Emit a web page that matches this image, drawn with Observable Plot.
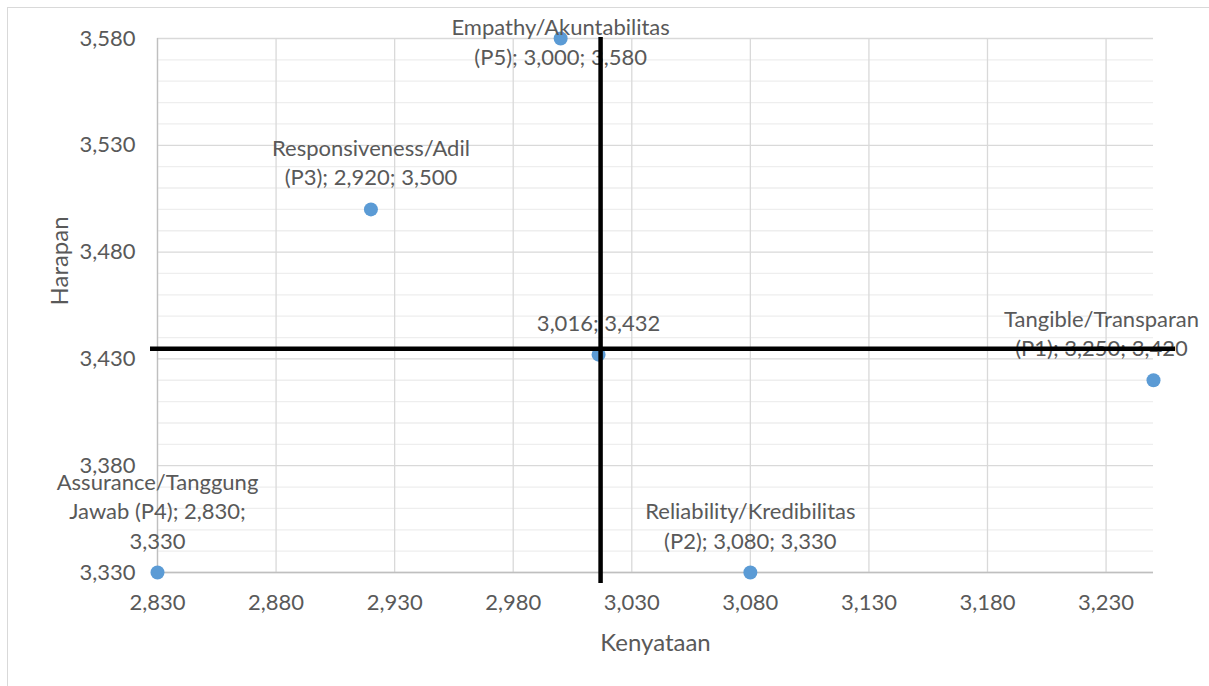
<!DOCTYPE html>
<html><head><meta charset="utf-8">
<script src="https://cdn.jsdelivr.net/npm/d3@7"></script>
<script src="https://cdn.jsdelivr.net/npm/@observablehq/plot@0.6"></script>
<style>
html,body{margin:0;padding:0;background:#fff;}
#wrap{position:relative;width:1209px;height:686px;overflow:hidden;}
#frame{position:absolute;left:7px;top:7px;width:1400px;height:900px;border:1.5px solid #d9d9d9;}
#chart{position:absolute;left:0;top:0;}
</style></head><body>
<div id="wrap"><div id="frame"></div><div id="chart"></div></div>
<script>
// ---- data ----
const aspects = ["Tangible/Transparan", "Reliability/Kredibilitas", "Responsiveness/Adil", "Assurance/Tanggung Jawab", "Empathy/Akuntabilitas"];
const codes = ["P1", "P2", "P3", "P4", "P5"];
const kenyataan = [3.250, 3.080, 2.920, 2.830, 3.000];
const harapan = [3.420, 3.330, 3.500, 3.330, 3.580];
const meanKenyataan = 3.016;
const meanHarapan = 3.432;
const xTitle = "Kenyataan";
const yTitle = "Harapan";
const xTicks = [2.830, 2.880, 2.930, 2.980, 3.030, 3.080, 3.130, 3.180, 3.230];
const yTicks = [3.330, 3.380, 3.430, 3.480, 3.530, 3.580];
const yMinorTicks = [3.340, 3.350, 3.360, 3.370, 3.390, 3.400, 3.410, 3.420, 3.440, 3.450, 3.460, 3.470,
  3.490, 3.500, 3.510, 3.520, 3.540, 3.550, 3.560, 3.570];
const xDomain = [2.830, 3.250];
const yDomain = [3.330, 3.580];

const fmt = v => d3.format(".3f")(v).replace(".", ",");
function wrap(s, max) {
  const words = s.split(" "), lines = [];
  let cur = "";
  for (const w of words) {
    if (cur && (cur + " " + w).length > max) { lines.push(cur); cur = w; }
    else cur = cur ? cur + " " + w : w;
  }
  if (cur) lines.push(cur);
  return lines.join("\n");
}
const points = aspects.map((a, i) => ({
  key: codes[i],
  x: kenyataan[i],
  y: harapan[i],
  label: wrap(`${a} (${codes[i]}); ${fmt(kenyataan[i])}; ${fmt(harapan[i])}`, 20)
}));
const mean = {key: "mean", x: meanKenyataan, y: meanHarapan, label: `${fmt(meanKenyataan)}; ${fmt(meanHarapan)}`};
const allPoints = [...points, mean];

const txt = "#595959";
const labelStyle = {x: "x", y: "y", text: "label", fill: txt, fontSize: 22, lineAnchor: "bottom", lineHeight: 1.33, textAnchor: "middle"};

const chart = Plot.plot({
  width: 1209,
  height: 686,
  marginLeft: 157,
  marginRight: 56,
  marginTop: 38,
  marginBottom: 114,
  style: {fontFamily: "Lato, 'Open Sans', sans-serif", fontSize: "22px", color: txt, background: "transparent", overflow: "visible"},
  x: {domain: xDomain},
  y: {domain: yDomain},
  marks: [
    Plot.ruleY(yMinorTicks, {stroke: "#eeeeee", strokeWidth: 1.3}),
    Plot.ruleY(yTicks, {stroke: "#d9d9d9", strokeWidth: 1.3}),
    Plot.ruleX(xTicks, {stroke: "#d9d9d9", strokeWidth: 1.3}),
    Plot.ruleX([xDomain[0]], {stroke: "#bfbfbf", strokeWidth: 1.3}),
    Plot.ruleY([yDomain[0]], {stroke: "#bfbfbf", strokeWidth: 1.3}),
    Plot.axisX(xTicks, {tickSize: 0, tickPadding: 22, tickFormat: fmt, fontSize: 22, fill: txt, label: null}),
    Plot.axisY(yTicks, {tickSize: 0, tickPadding: 22, tickFormat: fmt, fontSize: 22, fill: txt, label: null}),
    Plot.text([xTitle], {frameAnchor: "bottom", dy: 78, fontSize: 24, fill: txt}),
    Plot.text([yTitle], {frameAnchor: "left", dx: -97, rotate: -90, fontSize: 24, fill: txt}),
    Plot.dot(allPoints, {x: "x", y: "y", r: 7, fill: "#5b9bd5"}),
    Plot.text(allPoints.filter(d => ["P2", "P3", "P4", "mean"].includes(d.key)), {...labelStyle, dy: -24}),
    Plot.text(allPoints.filter(d => d.key === "P1"), {...labelStyle, dy: -24, dx: -52}),
    Plot.text(allPoints.filter(d => d.key === "P5"), {...labelStyle, dy: 26}),
    Plot.ruleY([meanHarapan], {stroke: "#000", strokeWidth: 4.5, dy: -6, insetLeft: -7, insetRight: -22}),
    Plot.ruleX([meanKenyataan], {stroke: "#000", strokeWidth: 4.5, dx: 2, insetTop: -1, insetBottom: -11})
  ]
});
document.getElementById("chart").appendChild(chart);
</script>
</body></html>
